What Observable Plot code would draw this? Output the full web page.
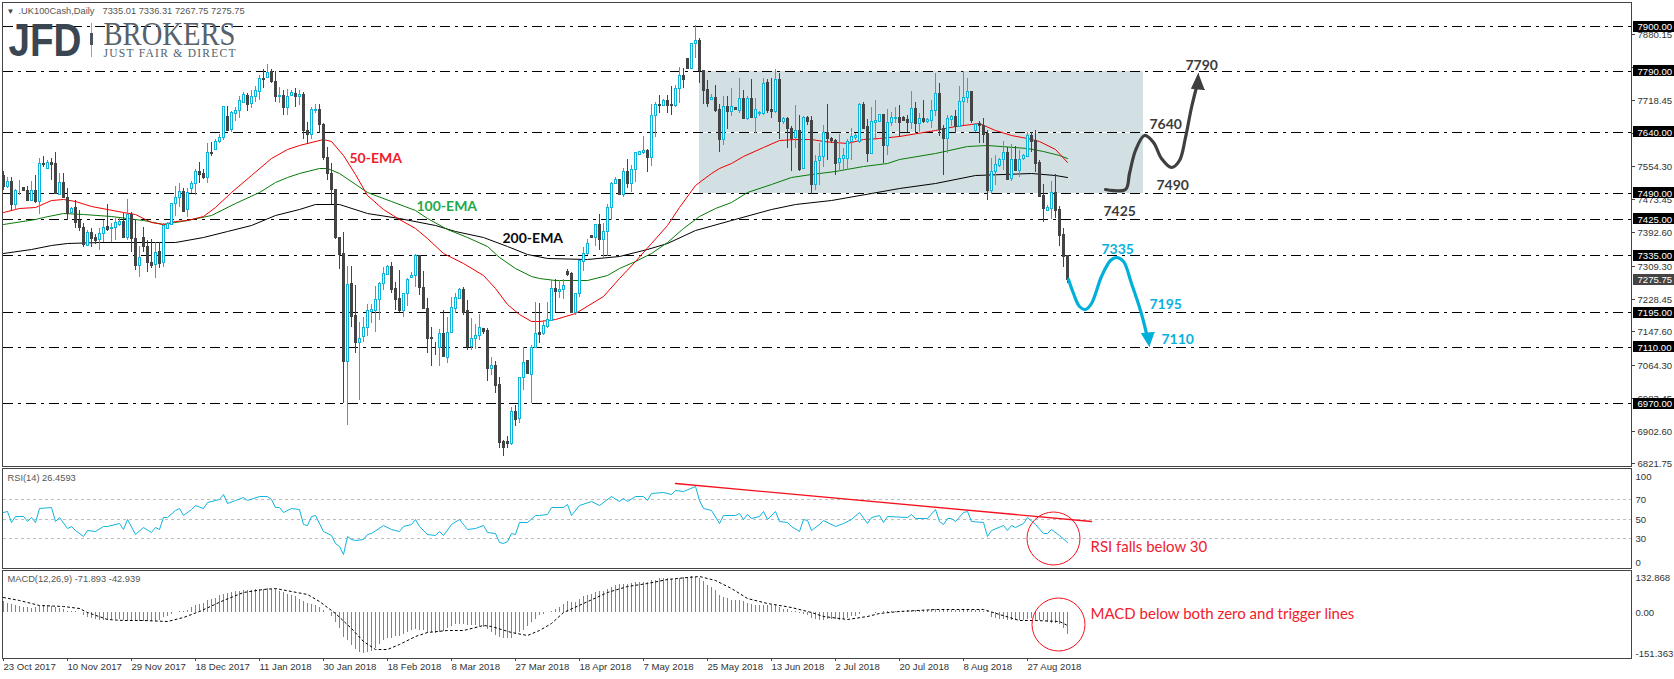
<!DOCTYPE html>
<html>
<head>
<meta charset="utf-8">
<style>
html,body{margin:0;padding:0;background:#fff;overflow:hidden}
svg{display:block}
</style>
<script src="https://cdn.jsdelivr.net/npm/d3@7"></script>
<script src="https://cdn.jsdelivr.net/npm/@observablehq/plot@0.6"></script>
</head>
<body>
<div id="chart"></div>
<script>
const directions = "duduuddudu"+"duddudd"+"udd"+"dudduuduuu"+"duddudddud"+"uuuuuduuud"+"duduuuduuu"+"uduuududdu"+"duududduud"+"dddddduddu"+"uuuuuuuddd"+
"uuuuddddd"+"u"+"duuuudduuu"+"ddudddd"+"udu"+"uduuduuudu"+"udd"+"uuuu"+"dud"+"uuuududuuu"+"uduudud"+"duu"+"dduuddd"+"udd"+"ududududuu"+"uddududdud"+
"udduuudddu"+"uuuuudduuu"+"duuudddudu"+"duuudduudu"+"uududdduuu"+"ududuuuddd"+"duudddd";
const highs = [7542,7529,7529,7498,7521,7504,7506,7519,7533,7574,
7579,7569,7574,7589,7538,7539,7500,7455,7472,7447,
7414,7398,7402,7388,7402,7422,7461,7414,7427,7427,
7439,7473,7441,7422,7357,7406,7373,7375,7369,7369,
7416,7418,7465,7506,7513,7500,7500,7519,7547,7565,
7547,7611,7614,7621,7635,7703,7704,7692,7702,7727,
7739,7735,7743,7753,7781,7794,7806,7794,7789,7750,
7743,7745,7743,7747,7743,7739,7665,7700,7709,7709,
7661,7603,7562,7499,7380,7392,7309,7309,7262,7170,
7184,7215,7215,7260,7270,7307,7311,7319,7270,7299,
7243,7279,7295,7338,7336,7297,7229,7159,7122,7153,
7200,7184,7233,7242,7254,7258,7225,7180,7166,7191,
7155,7155,7085,7075,7036,6880,6890,6962,6966,7036,
7110,7077,7114,7221,7217,7175,7221,7274,7276,7274,
7277,7301,7293,7241,7324,7355,7375,7384,7412,7437,
7414,7462,7517,7528,7523,7550,7572,7558,7591,7593,
7629,7597,7708,7714,7731,7721,7731,7753,7755,7800,
7796,7821,7858,7903,7870,7793,7768,7732,7755,7708,
7727,7727,7748,7701,7773,7743,7728,7770,7722,7690,
7773,7769,7772,7795,7784,7676,7676,7654,7706,7681,
7679,7679,7679,7583,7611,7657,7708,7626,7621,7635,
7599,7621,7648,7636,7712,7714,7671,7702,7718,7683,
7683,7695,7689,7702,7706,7679,7681,7741,7713,7687,
7718,7674,7718,7786,7759,7657,7681,7681,7694,7753,
7790,7772,7741,7662,7667,7673,7644,7575,7583,7575,
7617,7603,7610,7605,7595,7585,7640,7640,7643,7570,
7511,7459,7519,7536,7457,7402,7336.31];
const bodyTops = [7533,7519,7519,7496,7496,7504,7496,7496,7496,7562,
7564,7565,7565,7562,7515,7515,7478,7451,7454,7422,
7404,7392,7392,7380,7390,7406,7407,7404,7417,7419,
7419,7436,7437,7377,7330,7381,7358,7319,7344,7345,
7410,7414,7464,7478,7493,7494,7491,7513,7542,7542,
7538,7589,7590,7616,7626,7703,7679,7689,7693,7718,
7732,7730,7728,7742,7773,7773,7787,7789,7765,7730,
7730,7728,7737,7736,7732,7733,7643,7696,7696,7695,
7659,7577,7539,7499,7380,7340,7265,7266,7188,7131,
7159,7199,7202,7227,7266,7291,7308,7308,7254,7229,
7242,7276,7286,7335,7335,7256,7206,7133,7110,7143,
7143,7147,7207,7232,7251,7251,7200,7131,7138,7158,
7155,7151,7064,7065,7017,6877,6877,6951,6951,7034,
7071,7077,7108,7143,7145,7163,7177,7254,7254,7251,
7261,7297,7291,7241,7324,7342,7365,7384,7412,7412,
7394,7454,7513,7523,7523,7542,7542,7547,7589,7592,
7594,7595,7680,7708,7709,7717,7718,7708,7747,7781,
7781,7821,7858,7866,7866,7793,7745,7725,7725,7695,
7704,7703,7703,7701,7722,7722,7722,7723,7695,7688,
7759,7763,7695,7769,7770,7673,7674,7649,7644,7644,
7676,7677,7669,7567,7579,7639,7639,7624,7620,7575,
7582,7616,7629,7632,7708,7708,7653,7667,7669,7683,
7683,7664,7676,7676,7677,7677,7671,7698,7698,7673,
7673,7671,7693,7735,7735,7648,7673,7679,7679,7715,
7725,7740,7740,7658,7661,7657,7637,7544,7561,7572,
7590,7590,7572,7573,7572,7582,7631,7631,7620,7565,
7484,7454,7491,7491,7450,7388,7335.01];
const bodyBottoms = [7506,7506,7462,7462,7495,7495,7472,7472,7470,7470,
7561,7551,7561,7488,7487,7478,7439,7443,7418,7404,
7362,7360,7377,7373,7376,7390,7400,7402,7404,7412,
7381,7381,7377,7310,7310,7357,7318,7312,7313,7317,
7318,7402,7413,7464,7478,7445,7449,7500,7513,7536,
7528,7528,7587,7598,7616,7626,7644,7646,7687,7693,
7714,7708,7712,7729,7740,7769,7774,7764,7727,7727,
7702,7702,7730,7727,7727,7644,7635,7635,7693,7658,
7577,7539,7499,7380,7339,7075,7075,7186,7120,7122,
7137,7159,7197,7200,7227,7266,7288,7253,7228,7200,
7200,7242,7281,7286,7256,7206,7132,7130,7108,7110,
7087,7085,7147,7205,7229,7196,7112,7112,7130,7138,
7149,7056,7057,7016,6875,6863,6871,6872,6932,6933,
7034,7044,7043,7108,7140,7143,7161,7176,7246,7246,
7251,7289,7196,7194,7241,7322,7342,7381,7381,7376,
7376,7394,7454,7513,7486,7486,7514,7514,7547,7586,
7591,7578,7578,7680,7707,7707,7707,7706,7707,7747,
7771,7798,7798,7858,7792,7744,7710,7721,7694,7623,
7623,7690,7690,7695,7694,7674,7675,7677,7677,7685,
7685,7694,7690,7690,7667,7667,7648,7625,7626,7549,
7551,7667,7510,7510,7569,7579,7625,7620,7564,7565,
7574,7574,7616,7626,7618,7648,7588,7588,7665,7667,
7608,7608,7663,7675,7664,7669,7664,7665,7662,7662,
7667,7667,7670,7693,7646,7625,7624,7671,7655,7655,
7715,7725,7669,7644,7657,7635,7495,7495,7544,7558,
7572,7524,7525,7546,7546,7574,7580,7618,7564,7482,
7453,7448,7453,7447,7386,7334,7275.75];
const lows = [7496,7501,7447,7447,7484,7495,7468,7468,7464,7437,
7554,7548,7521,7486,7484,7476,7421,7440,7402,7394,
7355,7357,7355,7363,7348,7367,7394,7369,7373,7408,
7379,7373,7344,7299,7281,7344,7295,7303,7279,7303,
7306,7400,7410,7431,7455,7441,7429,7488,7484,7513,
7523,7513,7579,7595,7611,7620,7643,7640,7667,7673,
7712,7690,7698,7714,7717,7747,7772,7761,7713,7710,
7681,7681,7727,7702,7706,7621,7610,7622,7686,7636,
7570,7521,7462,7375,7302,6970,6917,7159,7094,6978,
7122,7136,7168,7145,7176,7250,7287,7242,7200,7196,
7184,7209,7279,7258,7236,7205,7094,7063,7088,7061,
7084,7069,7145,7192,7227,7188,7102,7102,7104,7125,
7141,7024,7040,6995,6859,6840,6859,6868,6913,6921,
7003,7043,6970,7106,7118,7138,7155,7172,7196,7229,
7227,7284,7192,7188,7233,7297,7336,7381,7358,7348,
7332,7333,7422,7511,7484,7480,7500,7491,7517,7584,
7585,7541,7555,7628,7685,7705,7687,7681,7702,7712,
7747,7798,7796,7821,7761,7708,7700,7720,7689,7591,
7607,7646,7679,7695,7687,7671,7669,7675,7638,7679,
7681,7687,7673,7687,7623,7659,7600,7542,7599,7542,
7548,7657,7487,7495,7509,7554,7570,7613,7533,7544,
7546,7546,7569,7620,7611,7646,7566,7585,7620,7665,
7562,7583,7653,7661,7628,7666,7640,7646,7638,7640,
7662,7661,7648,7679,7630,7533,7588,7653,7638,7653,
7657,7712,7661,7640,7613,7611,7472,7487,7509,7554,
7546,7523,7519,7544,7529,7570,7579,7590,7541,7478,
7418,7447,7425,7427,7357,7307,7267.75];

const ema50Idx = [0,4,8,12,15,18,22,26,30,33,37,40,43,46,50,53,57,62,67,71,74,76,80,82,85,88,91,95,99,103,106,110,115,120,123,126,129,132,134,138,143,150,154,158,162,166,169,173,177,179,182,185,190,194,198,202,205,211,215,219,224,230,233,238,242,244,248,252,256,259,263,266];
const ema50Val = [7441,7451,7455,7472,7474,7468,7457,7449,7442,7437,7417,7413,7419,7422,7432,7455,7492,7533,7576,7597,7608,7612,7622,7616,7583,7535,7484,7449,7425,7402,7377,7340,7315,7287,7254,7215,7191,7174,7172,7177,7192,7235,7278,7320,7365,7410,7455,7509,7537,7550,7562,7581,7602,7620,7621,7621,7616,7613,7621,7625,7630,7639,7644,7654,7659,7661,7643,7632,7624,7616,7597,7566];
const ema100Idx = [0,8,10,15,20,27,31,35,40,46,52,58,64,68,71,74,79,81,84,91,97,103,106,111,116,121,124,128,132,134,138,146,151,154,158,162,166,170,174,178,182,186,192,197,202,208,215,221,224,233,241,246,256,260,264,266];
const ema100Val = [7412,7424,7429,7439,7436,7431,7428,7421,7413,7421,7435,7464,7491,7515,7529,7538,7550,7550,7537,7492,7468,7447,7426,7399,7380,7357,7332,7303,7284,7279,7273,7273,7287,7303,7320,7340,7369,7402,7431,7451,7467,7491,7510,7529,7536,7543,7556,7564,7572,7587,7605,7606,7599,7593,7583,7574];
const ema200Idx = [0,7,12,16,24,33,43,50,56,62,68,74,78,84,91,99,108,113,120,126,131,136,146,154,161,166,173,182,192,198,207,217,224,233,243,257,263,266];
const ema200Val = [7340,7350,7360,7366,7367,7369,7369,7380,7395,7410,7435,7450,7462,7462,7439,7426,7410,7395,7380,7357,7338,7328,7325,7334,7350,7365,7398,7422,7449,7462,7472,7488,7500,7514,7533,7537,7534,7528];

const rsiIdx = [0,1,2,3,5,6,7,8,9,12,13,14,16,17,18,20,21,23,25,26,29,30,31,33,35,37,38,39,40,41,43,44,45,47,48,50,51,53,54,55,56,58,60,61,64,66,67,68,69,70,72,74,75,76,77,78,80,82,83,84,85,86,87,88,90,91,92,95,97,99,100,102,103,104,106,108,109,110,112,114,116,118,120,121,123,124,125,126,127,128,129,131,133,134,136,137,140,141,142,144,147,149,152,154,155,156,158,160,161,162,165,167,168,170,173,174,175,177,179,180,183,184,185,186,187,189,190,191,193,194,196,197,199,200,201,202,204,205,208,210,212,214,216,217,219,220,221,226,227,228,231,233,234,235,236,237,238,240,241,242,245,246,247,250,251,252,253,255,256,258,260,261,262,264,266];
const rsiVal = [57,58.5,47,53,53,48,52,47,61,62,47.6,52,41,43,39,32.6,39,37,42.5,42.5,46,40,50,34,41.5,36,42,40,52,52,59,61,54,60,64,61,67,69,70,75.6,66,69.5,72,69,73,73.6,70.5,62,62.6,57,61,60,45,44,53,53.4,37.7,33,25,22.6,14,32,29.5,28,29.5,34.6,35,44,40,37,42.5,44.5,50,42.5,34.6,33.6,37,33,45,50,40,41,44,36,35,26,25,27,35,34.6,46.6,46.6,53.4,54,55,62,62,65.5,54,63.7,68.5,64,73,68,71,68,73,73,69.5,76.7,78,75.6,80,79,83.5,69,61,58.6,46,53.4,53.8,56,50,54.8,51,52.4,58,50,57.5,48,47,43,37,50,49,39,45,49,43,45.6,50,57,46,52,54,46.6,52.7,51.7,55,50.7,51,59.6,48,45,51,50.7,48,57,58,48,46.6,32.6,39,44,39,44,41.4,46,52,44.4,35,35,40,33,26.46];
const rsiGuides = [70,50,30];

const macdHist = [37,29,26,23,20,18,15,13,16,20,
22,22,20,16,13,10,4,2,2,-1,
-9,-16,-19,-23,-25,-27,-25,-23,-23,-23,
-25,-25,-25,-27,-29,-30,-30,-30,-30,-27,
-16,-12,-5,-1,2,4,8,15,22,27,
31,38,43,47,54,59,62,65,68,70,
72,72,73,75,75,76,77,76,75,70,
65,59,54,51,43,37,31,26,22,15,
8,0,-12,-32,-52,-81,-90,-106,-119,-130,
-133,-131,-127,-117,-103,-90,-85,-84,-79,-77,
-73,-64,-57,-54,-57,-60,-65,-66,-68,-66,
-63,-52,-46,-40,-38,-38,-41,-41,-42,-46,
-50,-55,-66,-76,-81,-85,-86,-86,-73,-65,
-57,-46,-33,-23,-10,-5,0,2,10,18,
26,35,34,33,43,51,54,58,65,68,
68,75,83,89,91,92,93,96,98,99,
99,99,103,105,110,111,111,109,109,110,
113,113,116,114,111,102,88,81,72,56,
50,45,40,38,38,35,31,27,22,22,
23,23,23,22,18,11,11,5,2,-3,
-7,-9,-19,-23,-25,-25,-23,-23,-23,-25,
-23,-19,-14,-12,-5,-1,1,-1,-3,0,
2,2,3,4,5,5,6,7,8,8,
8,8,9,10,8,8,8,8,8,8,
9,9,8,7,6,5,2,-16,-19,-22,
-23,-27,-27,-27,-25,-25,-23,-20,-25,-27,
-27,-33,-35,-36,-40,-52,-71.893];
const signalIdx = [0,4,9,15,19,21,26,30,35,41,45,49,55,60,65,68,72,76,79,83,87,90,93,96,99,103,106,111,115,120,122,127,131,134,137,140,145,151,156,161,166,171,174,178,182,186,191,197,202,205,211,216,219,224,233,245,249,254,258,264,265,266];
const signalVal = [47.5,38,22,20.5,13,-1,-22,-27,-25,-30,-16,2,38,65,76,78,69,58,37,-3,-52,-95,-119,-122,-103,-79,-64,-60,-57,-43,-46,-66,-76,-60,-36,-1,31,65,85,96,108,114,116,105,78,45,29,16,0,-14,-23,-14,-2,3,11,10,-5,-25,-25,-30,-36,-42.939];

const levels = [7900,7790,7640,7490,7425,7335,7195,7110,6970];
const priceTicks = [7880.15,7799.30,7718.45,7637.60,7554.30,7473.45,7392.60,7309.30,7228.45,7147.60,7064.30,6983.45,6902.60,6821.75];
const lastPrice = 7275.75;
const dateLabels = ["23 Oct 2017","10 Nov 2017","29 Nov 2017","18 Dec 2017","11 Jan 2018","30 Jan 2018","18 Feb 2018","8 Mar 2018","27 Mar 2018","18 Apr 2018","7 May 2018","25 May 2018","13 Jun 2018","2 Jul 2018","20 Jul 2018","8 Aug 2018","27 Aug 2018"];
const dateTicks = [0,16,32,48,64,80,96,112,128,144,160,176,192,208,224,240,256];

const upPathIdx = [275.6,280.4,281.5,283.1,285.3,287.4,289.6,292,293.9,295.5,297.1,298.5];
const upPathVal = [7498,7498,7537,7595,7631,7615,7574,7554,7570,7628,7702,7759];
const upHeadIdx = [298.7,296.9,300.3];
const upHeadVal = [7784,7749,7745];
const downPathIdx = [266.2,267.5,269.1,270.4,272,274.5,276.7,278.3,279.9,282,284.2,285.8];
const downPathVal = [7276,7241,7209,7202,7217,7283,7324,7331,7320,7266,7200,7143];
const downHeadIdx = [286.5,284.4,287.7];
const downHeadVal = [7111,7143,7147];
const rangeBox = {i1:174,i2:285,top:7790,bottom:7490};
const trendIdx = [168,272];
const trendVal = [86.3,47.5];

const CYAN = "#0cb4dc", DARK = "#444444", RED = "#f5121f", SANS = "Liberation Sans", NOTE = "Lato";
const W = 1674, LAST = 407, AXIS = 9.6;
const xScale = {type:"linear",domain:[0,LAST],range:[3,3+4*LAST],round:true};
const ix = px => (px-3)/4;
const zip = (a,b) => a.map((x,i)=>({x,y:b[i]}));
const idx = highs.map((_,i)=>i);
const upIdx = idx.filter(i=>directions[i]==="u");
const downIdx = idx.filter(i=>directions[i]!=="u");

const py = y => 7900-(y-26.3)/0.4054;
function label(s,px,yv,o){return Plot.text([s],{x:()=>ix(px),y:()=>yv,text:d=>d,textAnchor:"start",fontFamily:SANS,...o});}
function curve(a,b,color,w,extra){return Plot.line(zip(a,b),{x:"x",y:"y",stroke:color,strokeWidth:w,...extra});}
const style = {background:"#fff",fontFamily:SANS,fontSize:AXIS+"px",color:"#333",overflow:"visible"};
const title = {fontSize:9.3,fill:"#555"};
const bold = {fontSize:14,fontFamily:NOTE,fontWeight:"bold"};
const note = {fontSize:15,fontFamily:NOTE,fill:"#f0202c"};

const main = Plot.plot({
  width:W,height:467,marginTop:2,marginBottom:1,marginLeft:2,marginRight:43,style,
  x:{...xScale,axis:null},
  y:{domain:[6821.75,7900],range:[463.4,26.3],round:true},
  marks:[
    Plot.rect([rangeBox],{x1:"i1",x2:"i2",y1:"bottom",y2:"top",fill:"#d2dfe3"}),
    Plot.ruleY([7640],{x1:()=>rangeBox.i1,x2:()=>rangeBox.i2,stroke:"#fff"}),
    Plot.ruleY(levels,{x1:()=>0,x2:()=>LAST,stroke:"#000",strokeDasharray:"10,5,3,5"}),
    curve(ema200Idx,ema200Val,"#000",1),
    curve(ema100Idx,ema100Val,"#0a7a0a",1),
    curve(ema50Idx,ema50Val,"#f00000",1),
    Plot.ruleX(upIdx,{x:d=>d,y1:d=>lows[d],y2:d=>highs[d],stroke:CYAN}),
    Plot.ruleX(downIdx,{x:d=>d,y1:d=>lows[d],y2:d=>highs[d],stroke:DARK}),
    Plot.rect(upIdx,{x1:d=>d-.25,x2:d=>d+.25,y1:d=>bodyBottoms[d],y2:d=>bodyTops[d],fill:"#fff",stroke:CYAN,dx:.5,dy:.5}),
    Plot.rect(downIdx,{x1:d=>d-.25,x2:d=>d+.25,y1:d=>bodyBottoms[d],y2:d=>bodyTops[d],fill:DARK,stroke:DARK,dx:.5,dy:.5}),
    curve(upPathIdx,upPathVal,"#3f3f3f",3.2,{curve:"catmull-rom"}),
    Plot.line(zip(upHeadIdx,upHeadVal),{x:"x",y:"y",fill:"#3f3f3f",stroke:"#3f3f3f",strokeWidth:1}),
    curve(downPathIdx,downPathVal,"#00b0d8",3.2,{curve:"catmull-rom"}),
    Plot.line(zip(downHeadIdx,downHeadVal),{x:"x",y:"y",fill:"#00b0d8",stroke:"#00b0d8",strokeWidth:1}),
    Plot.frame({stroke:"#444"}),
    Plot.axisY(priceTicks,{anchor:"right",tickSize:3,tickPadding:3,tickFormat:d=>d.toFixed(2),label:null,stroke:"#444"}),
    Plot.rect(levels,{x1:()=>ix(1633),x2:()=>ix(1674),y1:d=>d-13.5,y2:d=>d+13.5,fill:"#000"}),
    Plot.rect([lastPrice],{x1:()=>ix(1633),x2:()=>ix(1674),y1:d=>d-13.5,y2:d=>d+13.5,fill:"#444"}),
    Plot.text(levels,{x:()=>ix(1637),y:d=>d,text:d=>d.toFixed(2),textAnchor:"start",fill:"#fff",fontSize:AXIS}),
    Plot.text([lastPrice],{x:()=>ix(1637),y:d=>d,text:d=>d.toFixed(2),textAnchor:"start",fill:"#fff",fontSize:AXIS}),
    label("▼",6,py(10.7),{fontSize:8,fill:"#444"}),
    label(".UK100Cash,Daily",18,py(10.7),title),
    label("7335.01 7336.31 7267.75 7275.75",102,py(10.7),title),
    label("JFD",8,py(40),{fontSize:47,fontWeight:"bold",fill:"#3a4651"}),
    label("BROKERS",103,py(34.5),{fontSize:33,fontFamily:"Liberation Serif",fill:"#56616b"}),
    label("JUST FAIR & DIRECT",103,py(53),{fontSize:11.5,fontFamily:"Liberation Serif",fill:"#56616b"}),
    Plot.ruleX([ix(91)],{y1:()=>py(23),y2:()=>py(57),stroke:"#9aa3aa"}),
    Plot.ruleX([ix(91)],{y1:()=>py(33),y2:()=>py(45),stroke:"#4a545c",strokeWidth:3}),
    label("50-EMA",349,py(158),{...bold,fill:"#ef1c2a"}),
    label("100-EMA",416,py(205.7),{...bold,fill:"#1fa84a"}),
    label("200-EMA",502,py(238),{...bold,fill:"#0a0a0a"}),
    label("7790",1185,py(65),{...bold,fill:"#3c3c3c"}),
    label("7640",1149,py(124),{...bold,fill:"#3c3c3c"}),
    label("7490",1156,py(185),{...bold,fill:"#3c3c3c"}),
    label("7425",1103,py(211),{...bold,fill:"#3c3c3c"}),
    label("7335",1101,py(249),{...bold,fill:"#0cb0dc"}),
    label("7195",1149,py(304),{...bold,fill:"#0cb0dc"}),
    label("7110",1161,py(339),{...bold,fill:"#0cb0dc"})
  ]
});

const ry = y => 100-(y-469.9)/0.98;
const rsi = Plot.plot({
  width:W,height:102,marginTop:1,marginBottom:1,marginLeft:2,marginRight:43,style,
  x:{...xScale,axis:null},
  y:{domain:[30,70],range:[71.3,32.3],round:true,axis:null},
  marks:[
    Plot.ruleY(rsiGuides,{x1:()=>0,x2:()=>LAST,stroke:"#bdbdbd",strokeDasharray:"3,3"}),
    curve(rsiIdx,rsiVal,"#12b4dc",1),
    curve(trendIdx,trendVal,RED,1.4),
    Plot.dot([{x:262.5,y:30.7}],{x:"x",y:"y",r:26.5,stroke:RED,strokeWidth:1}),
    Plot.frame({stroke:"#444"}),
    Plot.text(rsiGuides,{x:()=>ix(1635),y:d=>d,text:d=>String(d),textAnchor:"start",fill:"#333",fontSize:AXIS}),
    Plot.text([100],{x:()=>ix(1635),y:d=>d,text:d=>String(d),textAnchor:"start",fill:"#333",dy:6,fontSize:AXIS}),
    Plot.text([0],{x:()=>ix(1635),y:d=>d,text:d=>String(d),textAnchor:"start",fill:"#333",dy:-6,fontSize:AXIS}),
    label("RSI(14) 26.4593",7,ry(477.7),title),
    label("RSI falls below 30",1090,ry(547),note)
  ]
});

const my = y => (612.3-y)/0.3068;
const macd = Plot.plot({
  width:W,height:110,marginTop:1,marginBottom:21,marginLeft:2,marginRight:43,style,
  x:{...xScale},
  y:{domain:[-151.363,132.868],range:[89.5,2.3],round:true,axis:null},
  marks:[
    Plot.ruleX(idx,{x:d=>d,y1:()=>0,y2:d=>macdHist[d],stroke:"#1aa8d0"}),
    curve(signalIdx,signalVal,"#000",1,{strokeDasharray:"2,3"}),
    Plot.dot([{x:263.7,y:-39}],{x:"x",y:"y",r:26.5,stroke:RED,strokeWidth:1}),
    Plot.frame({stroke:"#444"}),
    Plot.axisX(dateTicks,{anchor:"bottom",tickSize:3,tickPadding:2,textAnchor:"start",tickFormat:d=>dateLabels[dateTicks.indexOf(d)],label:null,fontSize:9.6,stroke:"#444"}),
    Plot.text([0],{x:()=>ix(1635),y:d=>d,text:()=>"0.00",textAnchor:"start",fill:"#333",fontSize:AXIS}),
    Plot.text([132.868],{x:()=>ix(1635),y:d=>d,text:d=>d.toFixed(3),textAnchor:"start",fill:"#333",dy:6,fontSize:AXIS}),
    Plot.text([-151.363],{x:()=>ix(1635),y:d=>d,text:d=>d.toFixed(3),textAnchor:"start",fill:"#333",dy:-6,fontSize:AXIS}),
    label("MACD(12,26,9) -71.893 -42.939",7,my(579.7),title),
    label("MACD below both zero and trigger lines",1090,my(614),note)
  ]
});

const host = document.getElementById("chart");
[main,rsi,macd].forEach(s=>host.appendChild(s));
const fit = {"JFD":73,"BROKERS":132,"JUST FAIR & DIRECT":132};
d3.select(main).selectAll("text").each(function(){
  const t = this.textContent;
  if (fit[t]) { this.setAttribute("textLength",fit[t]); this.setAttribute("lengthAdjust",t==="JUST FAIR & DIRECT"?"spacing":"spacingAndGlyphs"); }
});
</script>
</body>
</html>
